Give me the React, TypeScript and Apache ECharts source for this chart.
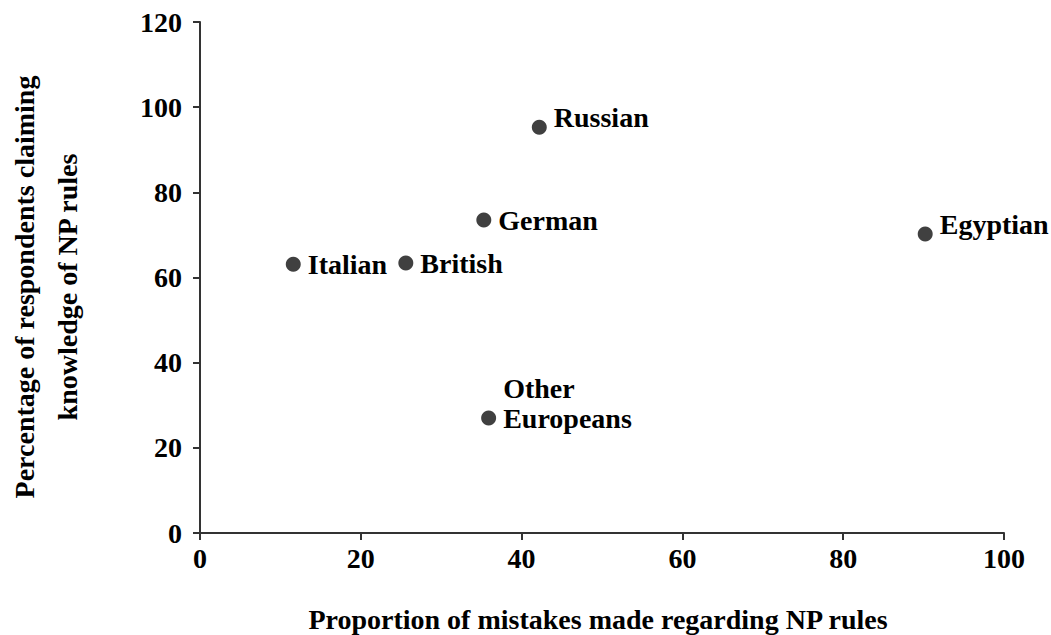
import React, { useEffect, useRef } from "react";
import * as echarts from "echarts";

const groups = ["Italian", "British", "German", "Russian", "Egyptian", "Other\nEuropeans"];
const mistakes = [11.6, 25.6, 35.3, 42.2, 90.2, 35.9];
const knowledge = [63.1, 63.4, 73.5, 95.3, 70.2, 27.0];
const labelOffsets: number[][] = [[0, 0], [0, 0], [0, 0], [0, -10], [0, -10], [0, -15]];
const xTicks = [0, 20, 40, 60, 80, 100];
const yTicks = [0, 20, 40, 60, 80, 100, 120];

const FONT = "'Liberation Serif', 'Times New Roman', serif";

export default function App() {
  const ref = useRef<HTMLDivElement>(null);
  useEffect(() => {
    if (!ref.current) return;
    const chart = echarts.init(ref.current, undefined, { renderer: "svg" });
    const data = groups.map((g, i) => ({
      value: [mistakes[i], knowledge[i]],
      name: g,
      label: { offset: labelOffsets[i] },
    }));
    chart.setOption({
      animation: false,
      backgroundColor: "#ffffff",
      grid: { left: 200, top: 22, right: 47, bottom: 102 },
      xAxis: {
        type: "value",
        min: xTicks[0],
        max: xTicks[xTicks.length - 1],
        interval: 20,
        splitLine: { show: false },
        axisLine: { show: true, lineStyle: { color: "#333", width: 2 } },
        axisTick: { show: true, length: 7, lineStyle: { color: "#333", width: 2 } },
        axisLabel: { margin: 11, color: "#000", fontFamily: FONT, fontWeight: "bold", fontSize: 28 },
      },
      yAxis: {
        type: "value",
        min: yTicks[0],
        max: yTicks[yTicks.length - 1],
        interval: 20,
        splitLine: { show: false },
        axisLine: { show: true, lineStyle: { color: "#333", width: 2 } },
        axisTick: { show: true, length: 7, lineStyle: { color: "#333", width: 2 } },
        axisLabel: { margin: 18, color: "#000", fontFamily: FONT, fontWeight: "bold", fontSize: 28 },
      },
      series: [
        {
          type: "scatter",
          symbol: "circle",
          symbolSize: 15,
          itemStyle: { color: "#404040", opacity: 1 },
          data,
          label: {
            show: true,
            position: "right",
            distance: 7,
            formatter: (p: any) => p.name,
            color: "#000",
            opacity: 1,
            fontFamily: FONT,
            fontWeight: "bold",
            fontSize: 28,
            lineHeight: 30,
          },
        },
      ],
      graphic: [
        {
          type: "text",
          x: 598,
          y: 619,
          style: {
            text: "Proportion of mistakes made regarding NP rules",
            fill: "#000",
            font: `bold 28px ${FONT}`,
            textAlign: "center",
            textVerticalAlign: "middle",
          },
        },
        {
          type: "text",
          x: 46,
          y: 287,
          rotation: Math.PI / 2,
          style: {
            text: "Percentage of respondents claiming\nknowledge of NP rules",
            fill: "#000",
            font: `bold 28px ${FONT}`,
            lineHeight: 43,
            textAlign: "center",
            textVerticalAlign: "middle",
          },
        },
      ],
    });
    return () => chart.dispose();
  }, []);
  return (
    <div
      ref={ref}
      style={{ position: "fixed", left: 0, top: 0, width: 1051, height: 635 }}
    />
  );
}
